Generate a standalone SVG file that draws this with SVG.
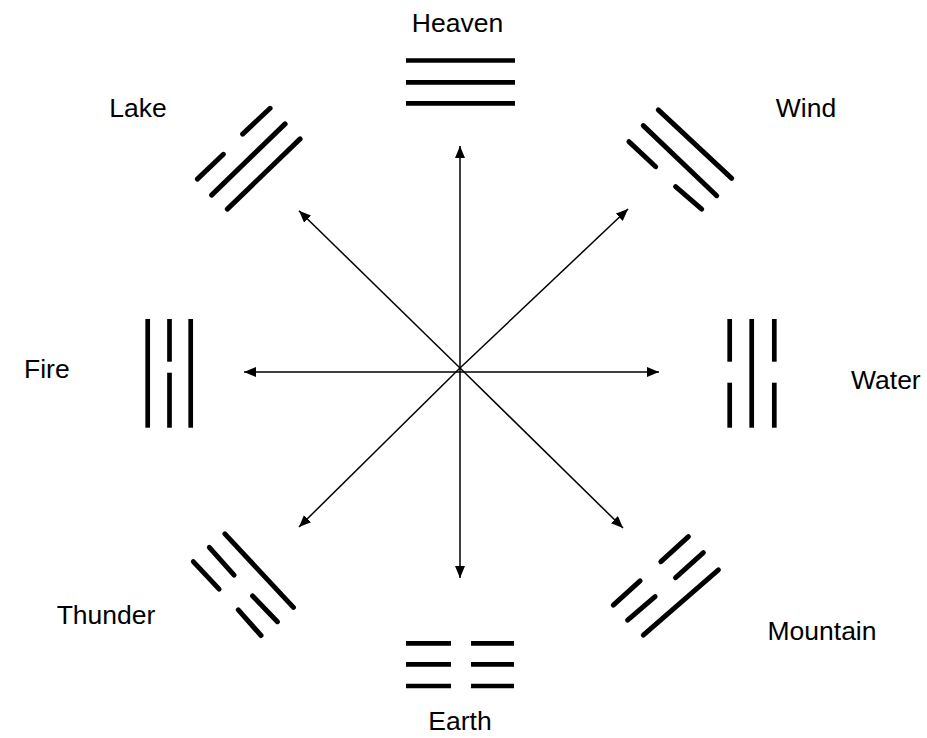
<svg xmlns="http://www.w3.org/2000/svg" width="927" height="738" viewBox="0 0 927 738">
<style>
  .lbl { font-family: "Liberation Sans", Arial, sans-serif; font-size: 26.5px; fill: #000; }
  .bar { stroke: #000; stroke-width: 4.7; stroke-linecap: butt; fill: none; }
  .dia { stroke: #000; stroke-width: 5; stroke-linecap: round; fill: none; }
  .arr { stroke: #000; stroke-width: 1.5; fill: none; marker-end: url(#ah); }
</style>
<defs>
  <marker id="ah" markerUnits="userSpaceOnUse" markerWidth="13" markerHeight="11" refX="12" refY="5" orient="auto">
    <path d="M0,0 L12,5 L0,10 Z" fill="#000"/>
  </marker>
</defs>
<rect width="927" height="738" fill="#fff"/>
<g id="connectors">
  <line class="arr" x1="460" y1="372" x2="460" y2="146"/>
  <line class="arr" x1="460" y1="372" x2="460" y2="578"/>
  <line class="arr" x1="460" y1="372" x2="244" y2="372"/>
  <line class="arr" x1="460" y1="372" x2="659" y2="372"/>
  <line class="arr" x1="460" y1="368" x2="299" y2="210.7"/>
  <line class="arr" x1="460" y1="368" x2="628" y2="209"/>
  <line class="arr" x1="460" y1="368" x2="299" y2="527"/>
  <line class="arr" x1="460" y1="368" x2="623" y2="528"/>
</g>
<g id="heaven">
  <line class="bar" x1="406" y1="60.5" x2="515" y2="60.5"/>
  <line class="bar" x1="406" y1="82.3" x2="515" y2="82.3"/>
  <line class="bar" x1="406" y1="103.3" x2="515" y2="103.3"/>
  <text class="lbl" x="457.5" y="31.7" text-anchor="middle">Heaven</text>
</g>
<g id="earth">
  <line class="bar" x1="406" y1="643.3" x2="451" y2="643.3"/>
  <line class="bar" x1="471" y1="643.3" x2="514" y2="643.3"/>
  <line class="bar" x1="406" y1="664.3" x2="451" y2="664.3"/>
  <line class="bar" x1="471" y1="664.3" x2="514" y2="664.3"/>
  <line class="bar" x1="406" y1="686" x2="451" y2="686"/>
  <line class="bar" x1="471" y1="686" x2="514" y2="686"/>
  <text class="lbl" x="460" y="730" text-anchor="middle">Earth</text>
</g>
<g id="fire">
  <line class="bar" x1="147.7" y1="319" x2="147.7" y2="427.7"/>
  <line class="bar" x1="169.5" y1="319" x2="169.5" y2="361.7"/>
  <line class="bar" x1="169.5" y1="372.7" x2="169.5" y2="427.7"/>
  <line class="bar" x1="190.7" y1="319" x2="190.7" y2="427.7"/>
  <text class="lbl" x="24" y="378">Fire</text>
</g>
<g id="water">
  <line class="bar" x1="729.7" y1="319" x2="729.7" y2="361.7"/>
  <line class="bar" x1="729.7" y1="382.7" x2="729.7" y2="427.7"/>
  <line class="bar" x1="751.7" y1="319" x2="751.7" y2="427.7"/>
  <line class="bar" x1="774.3" y1="319" x2="774.3" y2="361.7"/>
  <line class="bar" x1="774.3" y1="382.7" x2="774.3" y2="427.7"/>
  <text class="lbl" x="851" y="389">Water</text>
</g>
<g id="lake">
  <line class="dia" x1="242.6" y1="134.1" x2="270.1" y2="108.3"/>
  <line class="dia" x1="197.3" y1="179.1" x2="223.4" y2="154.3"/>
  <line class="dia" x1="211.6" y1="195.1" x2="285.1" y2="123.9"/>
  <line class="dia" x1="227.3" y1="209.1" x2="300.1" y2="138.9"/>
  <text class="lbl" x="138" y="117" text-anchor="middle">Lake</text>
</g>
<g id="wind">
  <line class="dia" x1="658.3" y1="109.9" x2="731.7" y2="178.4"/>
  <line class="dia" x1="643.3" y1="125.6" x2="716.7" y2="195.7"/>
  <line class="dia" x1="628.9" y1="141.6" x2="655.7" y2="166.7"/>
  <line class="dia" x1="675.6" y1="186.6" x2="701.7" y2="209.1"/>
  <text class="lbl" x="806" y="117" text-anchor="middle">Wind</text>
</g>
<g id="thunder">
  <line class="dia" x1="224.9" y1="533.9" x2="293.4" y2="607.4"/>
  <line class="dia" x1="209.3" y1="547.3" x2="234.1" y2="575.1"/>
  <line class="dia" x1="252.6" y1="595.9" x2="277.4" y2="621.7"/>
  <line class="dia" x1="193.3" y1="561.6" x2="219.1" y2="589.1"/>
  <line class="dia" x1="238.3" y1="609.9" x2="261" y2="635.5"/>
  <text class="lbl" x="106" y="624" text-anchor="middle">Thunder</text>
</g>
<g id="mountain">
  <line class="dia" x1="643.3" y1="635.1" x2="718.4" y2="569.9"/>
  <line class="dia" x1="627.6" y1="620.1" x2="655.1" y2="596.6"/>
  <line class="dia" x1="675.6" y1="577.7" x2="703.4" y2="552.6"/>
  <line class="dia" x1="613.3" y1="605.1" x2="640.1" y2="580.9"/>
  <line class="dia" x1="660.9" y1="561.7" x2="688.4" y2="536.6"/>
  <text class="lbl" x="822" y="640" text-anchor="middle">Mountain</text>
</g>
</svg>
